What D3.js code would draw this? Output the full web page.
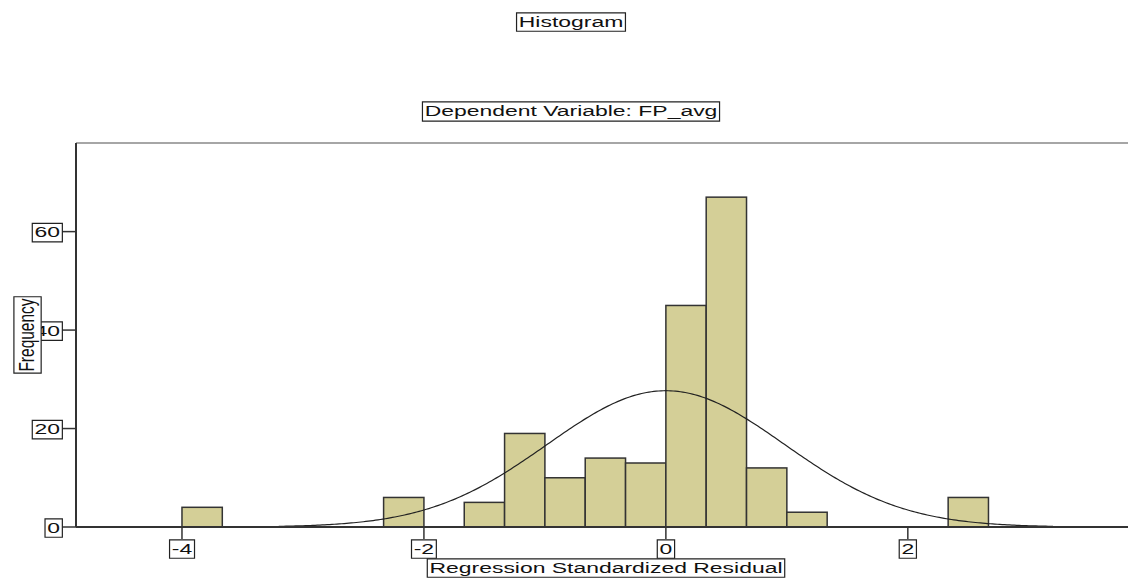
<!DOCTYPE html>
<html>
<head>
<meta charset="utf-8">
<script src="https://cdn.jsdelivr.net/npm/d3@7"></script>
<style>
  body { margin: 0; background: #fff; }
  text { font-family: "Liberation Sans", Arial, sans-serif; fill: #111; }
</style>
</head>
<body>
<script>
// histogram of regression standardized residuals
var binLo = [-4, -2.3333, -1.6667, -1.3333, -1, -0.6667, -0.3333, 0, 0.3333, 0.6667, 1, 2.3333];
var counts = [4, 6, 5, 19, 10, 14, 13, 45, 67, 12, 3, 6];
var binWidth = 1 / 3;
var xTicks = [-4, -2, 0, 2];
var yTicks = [0, 20, 40, 60];
var fitMean = 0, fitSd = 0.98, fitN = 204;

var width = 1128, height = 578;
var sx = 1.48; // the original picture is stretched sideways

var svg = d3.select("body").append("svg")
    .attr("width", width)
    .attr("height", height)

var x = d3.scaleLinear().domain([-4.876, 3.82]).range([76, 1128])
var y = d3.scaleLinear().domain([0, 78]).range([527, 143])

// boxed text, like the spss output
function boxed(g, t, px, py, rot, anchor) {
    var gg = g.append("g").attr("transform", "translate(" + px + "," + py + ") scale(" + sx + ",1)" + (rot ? " rotate(" + rot + ")" : ""))
    var tx = gg.append("text")
        .attr("text-anchor", anchor || "middle")
        .attr("dy", "0.36em")
        .style("font-size", "15.5px")
        .text(t)
    var b = tx.node().getBBox()
    gg.insert("rect", "text")
        .attr("x", b.x - 1.5).attr("y", b.y + 0.5)
        .attr("width", b.width + 3).attr("height", b.height + 1)
        .attr("fill", "white")
        .attr("stroke", "#222")
        .attr("stroke-width", 1.2)
        .attr("vector-effect", "non-scaling-stroke")
    return gg
}

boxed(svg, "Histogram", 571, 21)
boxed(svg, "Dependent Variable: FP_avg", 571, 110)

// frame
svg.append("line").attr("x1", 76).attr("x2", width).attr("y1", 143).attr("y2", 143)
    .attr("stroke", "#888").attr("stroke-width", 1.5)

// bars
svg.append("g").selectAll("rect")
    .data(binLo)
    .enter()
    .append("rect")
    .attr("x", d => x(d))
    .attr("width", d => x(d + binWidth) - x(d))
    .attr("y", (d, i) => y(counts[i]))
    .attr("height", (d, i) => y(0) - y(counts[i]))
    .attr("fill", "#d4cf97")
    .attr("stroke", "#333")
    .attr("stroke-width", 1.5)

// normal curve
var xs = d3.range(-3.2, 3.2001, 0.02)
var line = d3.line()
    .x(d => x(d))
    .y(d => y(fitN * binWidth * Math.exp(-0.5 * Math.pow((d - fitMean) / fitSd, 2)) / (fitSd * Math.sqrt(2 * Math.PI))))
svg.append("path")
    .datum(xs)
    .attr("d", line)
    .attr("fill", "none")
    .attr("stroke", "#222")
    .attr("stroke-width", 1.2)

// axes
svg.append("line").attr("x1", 76).attr("x2", 76).attr("y1", 143).attr("y2", 527)
    .attr("stroke", "#333").attr("stroke-width", 2)
svg.append("line").attr("x1", 76).attr("x2", width).attr("y1", 527).attr("y2", 527)
    .attr("stroke", "#333").attr("stroke-width", 2)

var gy = svg.append("g")
yTicks.forEach(function (v) {
    gy.append("line").attr("x1", 62).attr("x2", 76).attr("y1", y(v)).attr("y2", y(v))
        .attr("stroke", "#333").attr("stroke-width", 1.5)
    boxed(gy, v, 60, y(v), 0, "end")
})

var gx = svg.append("g")
xTicks.forEach(function (v) {
    gx.append("line").attr("x1", x(v)).attr("x2", x(v)).attr("y1", 527).attr("y2", 539)
        .attr("stroke", "#333").attr("stroke-width", 1.5)
    boxed(gx, v, x(v), 548)
})

boxed(svg, "Frequency", 26, 335, -90)
boxed(svg, "Regression Standardized Residual", 606, 567)
</script>
</body>
</html>
